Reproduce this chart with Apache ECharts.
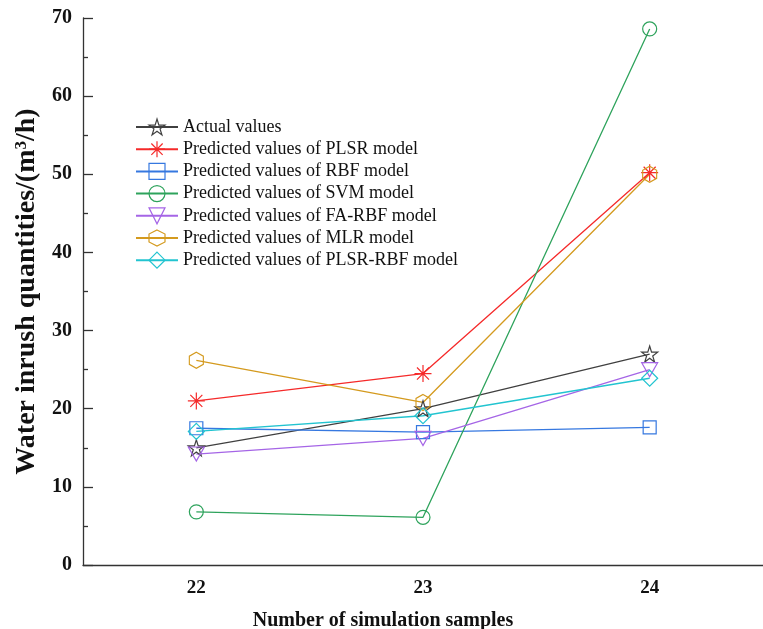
<!DOCTYPE html>
<html>
<head>
<meta charset="utf-8">
<script src="https://cdn.jsdelivr.net/npm/echarts@6/dist/echarts.min.js"></script>
<style>
  html, body { margin: 0; padding: 0; background: #fff; }
  #main { width: 763px; height: 629px; }
</style>
</head>
<body>
<div id="main"></div>
<script>
// chart data
var samples = ['22', '23', '24'];
var actualValues = [15.0, 20.0, 27.0];
var plsrValues = [21.0, 24.5, 50.2];
var rbfValues = [17.5, 17.0, 17.6];
var svmValues = [6.8, 6.1, 68.6];
var faRbfValues = [14.2, 16.2, 25.0];
var mlrValues = [26.2, 20.8, 50.0];
var plsrRbfValues = [17.1, 19.1, 23.9];

var seriesNames = [
    'Actual values',
    'Predicted values of PLSR model',
    'Predicted values of RBF model',
    'Predicted values of SVM model',
    'Predicted values of FA-RBF model',
    'Predicted values of MLR model',
    'Predicted values of PLSR-RBF model'
];

var FONT = '"Liberation Serif", "Times New Roman", serif';

// marker shapes (hollow)
var starPath = 'path://M0,-100 L22.45,-30.9 L95.1,-30.9 L36.3,11.8 L58.8,80.9 L0,38.2 L-58.8,80.9 L-36.3,11.8 L-95.1,-30.9 L-22.45,-30.9 Z';
var asteriskPath = 'path://M0,-100 L0,100 M-100,0 L100,0 M-70.7,-70.7 L70.7,70.7 M-70.7,70.7 L70.7,-70.7';
var downTriPath = 'path://M0,0 L200,0 L100,170 Z';
var hexPath = 'path://M0,-100 L86.6,-50 L86.6,50 L0,100 L-86.6,50 L-86.6,-50 Z';

function makeSeries(name, data, color, symbol, size) {
    return {
        name: name,
        type: 'line',
        data: data,
        symbol: symbol,
        symbolSize: size,
        showAllSymbol: true,
        lineStyle: { color: color, width: 1.3 },
        itemStyle: { color: 'rgba(255,255,255,0)', borderColor: color, borderWidth: 1.2 },
        emphasis: { disabled: true }
    };
}

var myChart = echarts.init(document.getElementById('main'));

var option = {
    animation: false,
    backgroundColor: '#fff',
    grid: {
        left: 83,
        right: 0,
        top: 18,
        bottom: 64,
        outerBoundsMode: 'none'
    },
    legend: {
        orient: 'vertical',
        left: 130,
        top: 113,
        itemWidth: 42,
        itemHeight: 20,
        itemGap: 4.2,
        itemStyle: { color: 'rgba(255,255,255,0)', borderWidth: 1.2 },
        textStyle: { fontFamily: FONT, fontSize: 18, color: '#111', lineHeight: 18 },
        data: seriesNames
    },
    xAxis: {
        type: 'category',
        data: samples,
        boundaryGap: true,
        name: 'Number of simulation samples',
        nameLocation: 'middle',
        nameGap: 46,
        nameTextStyle: { fontFamily: FONT, fontSize: 20, fontWeight: 'bold', color: '#111', padding: [0, 80, 0, 0] },
        axisLine: { lineStyle: { color: '#333', width: 1.3 } },
        axisTick: { inside: true, alignWithLabel: true, length: 8, lineStyle: { color: '#333', width: 1.3 } },
        axisLabel: { fontFamily: FONT, fontSize: 19, fontWeight: 'bold', color: '#111', margin: 14 },
        splitLine: { show: false }
    },
    yAxis: {
        type: 'value',
        min: 0,
        max: 70,
        interval: 10,
        name: 'Water inrush quantities/(m{sup|3}/h)',
        nameLocation: 'middle',
        nameGap: 41,
        nameTextStyle: {
            fontFamily: FONT, fontSize: 28, fontWeight: 'bold', color: '#111',
            rich: {
                sup: { fontFamily: FONT, fontSize: 17, fontWeight: 'bold', color: '#111', verticalAlign: 'top', padding: [0, 0, 10, 0] }
            }
        },
        axisLine: { show: true, lineStyle: { color: '#333', width: 1.3 } },
        axisTick: { show: true, inside: true, length: 10, lineStyle: { color: '#333', width: 1.3 } },
        minorTick: { show: true, splitNumber: 2, length: 5, lineStyle: { color: '#333', width: 1.3 } },
        axisLabel: { fontFamily: FONT, fontSize: 20, fontWeight: 'bold', color: '#111', margin: 11 },
        splitLine: { show: false }
    },
    series: [
        makeSeries(seriesNames[0], actualValues, '#404040', starPath, 16),
        makeSeries(seriesNames[1], plsrValues, '#f52a2a', asteriskPath, 17),
        makeSeries(seriesNames[2], rbfValues, '#3678e0', 'rect', 13),
        makeSeries(seriesNames[3], svmValues, '#2ea35c', 'circle', 14),
        makeSeries(seriesNames[4], faRbfValues, '#a565e6', downTriPath, [16, 14]),
        makeSeries(seriesNames[5], mlrValues, '#d49a1e', hexPath, [14, 16]),
        makeSeries(seriesNames[6], plsrRbfValues, '#22c4d0', 'diamond', 16)
    ]
};

myChart.setOption(option);
</script>
</body>
</html>
